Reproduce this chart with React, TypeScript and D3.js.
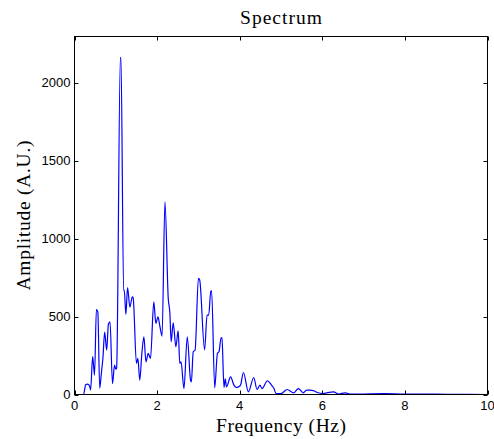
import React from "react";
import * as d3 from "d3";

const freq: number[] = [
  0, 0.1, 0.22, 0.27, 0.31, 0.355, 0.39, 0.44, 0.485, 0.53, 0.565, 0.61, 0.65, 0.69, 0.73, 0.78, 0.82, 0.86,
  0.92, 0.97, 1.0, 1.02, 1.11, 1.125, 1.19, 1.205, 1.244, 1.285, 1.34, 1.40, 1.42, 1.50, 1.535, 1.58, 1.63,
  1.68, 1.73, 1.785, 1.84, 1.92, 1.97, 2.02, 2.07, 2.12, 2.19, 2.27, 2.31, 2.34, 2.39, 2.455, 2.51, 2.55,
  2.58, 2.65, 2.73, 2.81, 2.83, 2.875, 2.92, 3.0, 3.03, 3.15, 3.21, 3.25, 3.30, 3.32, 3.395, 3.46, 3.50,
  3.55, 3.57, 3.62, 3.65, 3.68, 3.78, 3.86, 3.92, 3.97, 4.02, 4.09, 4.21, 4.34, 4.42, 4.49, 4.54, 4.67,
  4.77, 4.83, 4.88, 5.0, 5.15, 5.31, 5.42, 5.54, 5.62, 5.70, 5.78, 5.9, 6.0, 6.27, 6.4, 6.55, 6.7, 7.0,
  7.5, 8.0, 8.5, 9.0, 10,
];

const amplitude: number[] = [
  0, 0, 0, 62, 66, 60, 30, 243, 124, 545, 530, 40, 135, 240, 400, 284, 450, 466,
  70, 188, 162, 170, 2160, 2160, 665, 670, 513, 686, 560, 626, 620, 199, 231, 92, 260,
  370, 209, 263, 231, 594, 455, 498, 434, 374, 1235, 615, 519, 338, 459, 306, 408, 199,
  209, 38, 370, 92, 81, 274, 284, 744, 735, 286, 509, 509, 664, 664, 43, 263, 275,
  365, 363, 45, 100, 49, 113, 60, 45, 49, 60, 141, 17, 109, 32, 60, 38, 88,
  60, 38, 6, 6, 32, 11, 38, 11, 28, 28, 25, 11, 6, 17, 3, 11, 2, 3,
  5, 2, 3, 1, 0,
];

const xTicks: number[] = [0, 2, 4, 6, 8, 10];
const yTicks: number[] = [0, 500, 1000, 1500, 2000];

const W = 494;
const H = 439;
const L = 74.5;
const R = 487.5;
const T = 36.5;
const B = 394.5;

export default function App() {
  const x = d3.scaleLinear().domain([0, 10]).range([L, R]);
  const y = d3.scaleLinear().domain([0, 2295]).range([B, T]);
  const pts = freq.map((f, i) => [f, amplitude[i]] as [number, number]);
  const line = d3
    .line<[number, number]>()
    .x((d) => x(d[0]))
    .y((d) => y(d[1]))
    .curve(d3.curveMonotoneX);
  const tl = 4;
  const sans = "'Liberation Sans', Arial, Helvetica, sans-serif";
  const serif = "'Liberation Serif', 'Times New Roman', serif";
  return (
    <svg
      width={W}
      height={H}
      style={{ position: "absolute", left: 0, top: 0, background: "#fff" }}
    >
      <rect x={0} y={0} width={W} height={H} fill="#fff" />
      <path d={line(pts) || ""} fill="none" stroke="#0000ff" strokeWidth={1.2} strokeLinejoin="round" />
      {xTicks.map((t) => (
        <g key={"x" + t}>
          <line x1={Math.round(x(t)) + 0.5} x2={Math.round(x(t)) + 0.5} y1={B} y2={B - tl} stroke="#000" strokeWidth={1} />
          <line x1={Math.round(x(t)) + 0.5} x2={Math.round(x(t)) + 0.5} y1={T} y2={T + tl} stroke="#000" strokeWidth={1} />
          <text x={x(t)} y={410} textAnchor="middle" fontFamily={sans} fontSize={13} fill="#000">
            {t}
          </text>
        </g>
      ))}
      {yTicks.map((t) => (
        <g key={"y" + t}>
          <line x1={L} x2={L + tl} y1={Math.round(y(t)) + 0.5} y2={Math.round(y(t)) + 0.5} stroke="#000" strokeWidth={1} />
          <line x1={R} x2={R - tl} y1={Math.round(y(t)) + 0.5} y2={Math.round(y(t)) + 0.5} stroke="#000" strokeWidth={1} />
          <text x={70.5} y={y(t)} dy="0.36em" textAnchor="end" fontFamily={sans} fontSize={13} fill="#000">
            {t}
          </text>
        </g>
      ))}
      <rect x={L} y={T} width={R - L} height={B - T} fill="none" stroke="#000" strokeWidth={1} />
      <text x={(L + R) / 2} y={24} textAnchor="middle" fontFamily={serif} fontSize={19.5} fill="#000" textLength={82} lengthAdjust="spacing">
        Spectrum
      </text>
      <text x={(L + R) / 2} y={432} textAnchor="middle" fontFamily={serif} fontSize={19.5} fill="#000" textLength={130} lengthAdjust="spacing">
        Frequency (Hz)
      </text>
      <text
        transform={`translate(29.5, ${(T + B) / 2}) rotate(-90)`}
        textAnchor="middle"
        fontFamily={serif}
        fontSize={19.5}
        fill="#000"
        textLength={150}
        lengthAdjust="spacing"
      >
        Amplitude (A.U.)
      </text>
    </svg>
  );
}
